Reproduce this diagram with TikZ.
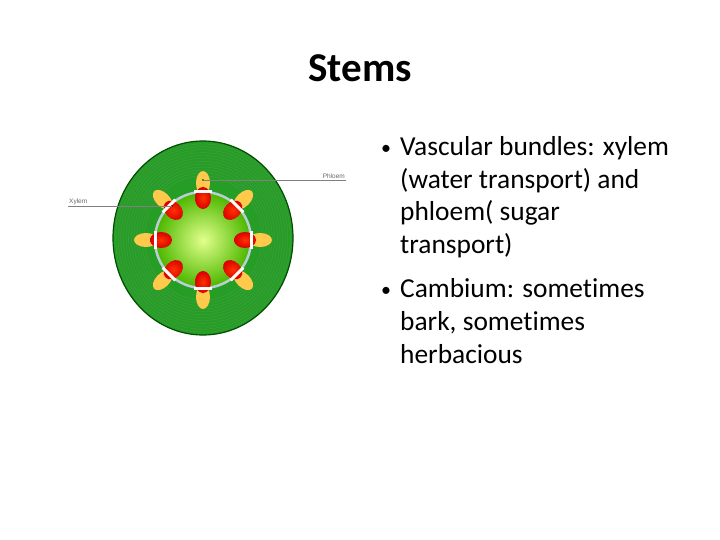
\documentclass[tikz,border=0pt]{standalone}
\usepackage{fontspec}
\setmainfont{Carlito}[Ligatures=NoCommon]
\setsansfont{Liberation Sans}
\begin{document}
\begin{tikzpicture}[x=1pt,y=-1pt,
  lbl/.style={font=\sffamily\fontsize{6.5}{7}\selectfont,text=gray!80!black,inner sep=1pt},
  bul/.style={font=\fontsize{27.4}{32}\selectfont,anchor=base west,inner sep=0pt},
  lead/.style={gray,line width=0.6pt}]
\useasboundingbox (0,0) rectangle (720,540);
\node[font=\bfseries\fontsize{41}{48}\selectfont] (title) at (360,68) {Stems};
% stem
\fill[green!55!black!85] (203,238) ellipse [x radius=90,y radius=97];
\foreach \k in {1,...,12}{
  \draw[green!45!black!70,line width=0.3pt] (203,238) ellipse [x radius=90-2.6*\k,y radius=97-2.9*\k];}
\draw[green!30!black,line width=1.2pt] (203,238) ellipse [x radius=90,y radius=97];
\shade[inner color=green!25!yellow!45,outer color=green!60!black!70!yellow] (203,240) circle (47);
\draw[gray!40!white!85!cyan,line width=2.5pt] (203,240) circle (48);
\foreach \a in {0,45,...,315}{
  \begin{scope}[shift={(203,240)},rotate=\a]
    \fill[orange!60!yellow!70] (57,0) ellipse [x radius=12,y radius=7];
    \shade[inner color=red!60!orange,outer color=red!85!black] (42,0) ellipse [x radius=11,y radius=8];
    \fill[white] (46.5,-9) rectangle (49.5,9);
  \end{scope}}
% labels
\coordinate (ph) at (203,180);
\coordinate (xy) at (172,206);
\fill (ph) circle (0.8) (xy) circle (0.8);
\node[lbl,anchor=south east] (phl) at (346,180) {Phloem};
\node[lbl,anchor=south west] (xyl) at (68,206) {Xylem};
\draw[lead] (ph) -- (phl.south east);
\draw[lead] (xyl.south west) -- (xy);
% bullets
\node[bul,font=\fontsize{20}{24}\selectfont] (b1) at (381,155) {•};
\node[bul] (t1) at (400,156) {Vascular bundles: xylem};
\node[bul] (t2) at (400,189) {(water transport) and};
\node[bul] (t3) at (400,221) {phloem( sugar};
\node[bul] (t4) at (400,253) {transport)};
\node[bul,font=\fontsize{20}{24}\selectfont] (b2) at (381,296) {•};
\node[bul] (t5) at (400,297) {Cambium: sometimes};
\node[bul] (t6) at (400,330) {bark, sometimes};
\node[bul] (t7) at (400,363) {herbacious};
\end{tikzpicture}
\end{document}
